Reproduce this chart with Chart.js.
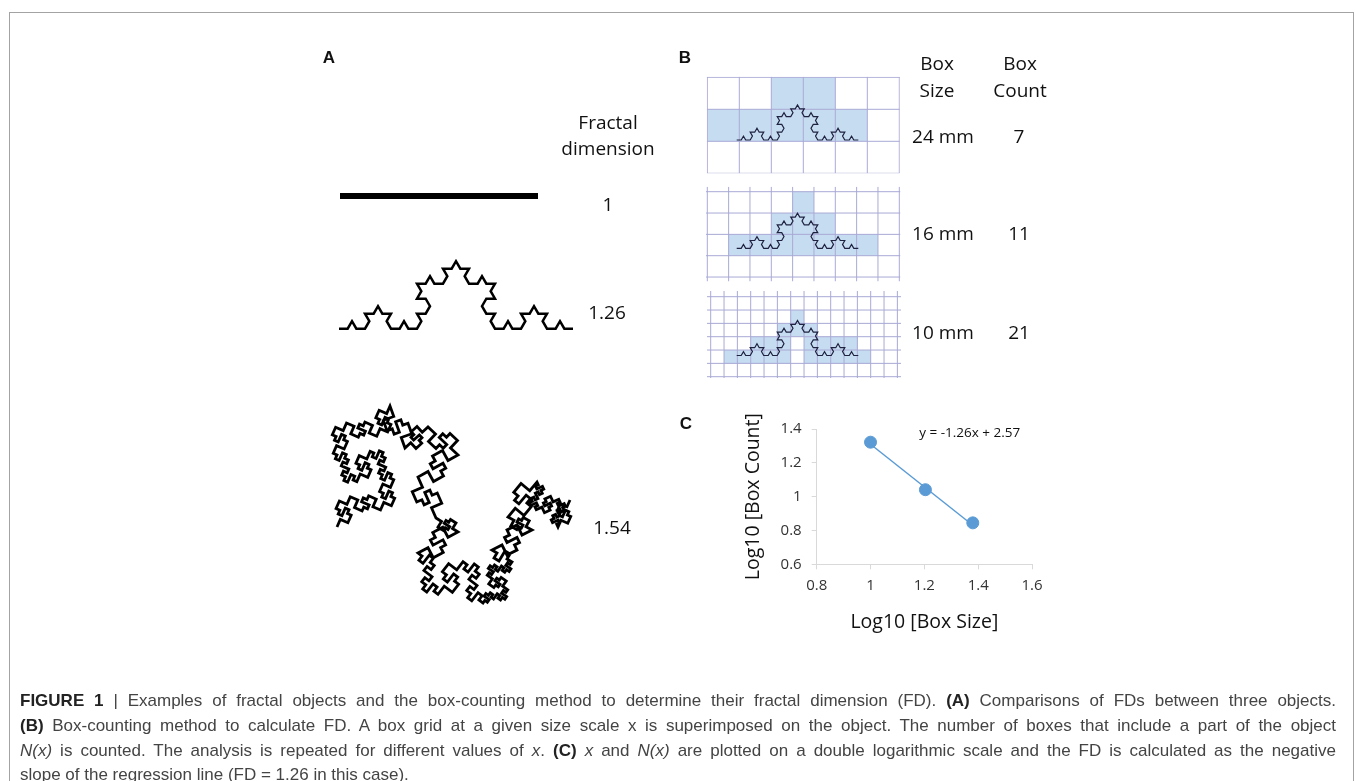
<!DOCTYPE html>
<html>
<head>
<meta charset="utf-8">
<script src="https://cdn.jsdelivr.net/npm/chart.js@4.4.1/dist/chart.umd.min.js"></script>
<style>
body{margin:0;background:#fff;width:1355px;height:781px;overflow:hidden;position:relative;font-family:'Open Sans',sans-serif;color:#111}
.frame{position:absolute;left:9px;top:12px;width:1345px;height:800px;border:1px solid #a3a3a3;box-sizing:border-box}
.t{position:absolute;transform:translate(-50%,-50%);white-space:nowrap;font-size:19px;line-height:1}
.p{position:absolute;transform:translate(-50%,-50%);font-family:'Liberation Sans',Arial,sans-serif;font-weight:bold;font-size:17px;line-height:1}
#illus{position:absolute;left:0;top:0}
#chartC{position:absolute;left:680px;top:400px}
.cap{position:absolute;left:20px;top:689px;width:1316px;font-family:'Liberation Sans',sans-serif;font-size:17px;line-height:24.8px;color:#444}
.cap div{text-align:justify;text-align-last:justify;white-space:nowrap}
.cap div.last{text-align-last:left}
.cap b{color:#222}
</style>
</head>
<body>
<div class="frame"></div>
<canvas id="illus" width="1355" height="781"></canvas>
<canvas id="chartC" width="370" height="240"></canvas>

<div class="p" style="left:329px;top:57px">A</div>
<div class="p" style="left:685px;top:57px">B</div>
<div class="p" style="left:686px;top:423px">C</div>

<div class="t" style="left:608px;top:122px">Fractal</div>
<div class="t" style="left:608px;top:148px">dimension</div>
<div class="t" style="left:608px;top:204px">1</div>
<div class="t" style="left:607px;top:312px">1.26</div>
<div class="t" style="left:612px;top:527px">1.54</div>

<div class="t" style="left:937px;top:63px">Box</div>
<div class="t" style="left:937px;top:90px">Size</div>
<div class="t" style="left:1020px;top:63px">Box</div>
<div class="t" style="left:1020px;top:90px">Count</div>
<div class="t" style="left:943px;top:136px">24 mm</div>
<div class="t" style="left:1019px;top:136px">7</div>
<div class="t" style="left:943px;top:233px">16 mm</div>
<div class="t" style="left:1019px;top:233px">11</div>
<div class="t" style="left:943px;top:332px">10 mm</div>
<div class="t" style="left:1019px;top:332px">21</div>

<div class="cap">
<div><b>FIGURE 1</b> | Examples of fractal objects and the box-counting method to determine their fractal dimension (FD). <b>(A)</b> Comparisons of FDs between three objects.</div>
<div><b>(B)</b> Box-counting method to calculate FD. A box grid at a given size scale x is superimposed on the object. The number of boxes that include a part of the object</div>
<div><i>N(x)</i> is counted. The analysis is repeated for different values of <i>x</i>. <b>(C)</b> <i>x</i> and <i>N(x)</i> are plotted on a double logarithmic scale and the FD is calculated as the negative</div>
<div class="last">slope of the regression line (FD = 1.26 in this case).</div>
</div>

<script>
// panel C values (log10 of box size / box count)
var logBoxSize = [1.0, 1.204, 1.38];
var logBoxCount = [1.322, 1.041, 0.845];
// regression line y = -1.26x + 2.57, end points
var trendX = [1.0, 1.38];
var trendY = [1.31, 0.831];
var xTicks = [0.8, 1.6, 0.2];   // min, max, step
var yTicks = [0.6, 1.4, 0.2];

// boxes counted in panel B, [row, col]
var shade24 = [[0,2],[0,3],[1,0],[1,1],[1,2],[1,3],[1,4]];
var shade16 = [[0,4],[1,3],[1,4],[1,5],[2,1],[2,2],[2,3],[2,4],[2,5],[2,6],[2,7]];
var shade10 = [[1,6],[2,5],[2,6],[2,7],[3,3],[3,4],[3,5],[3,7],[3,8],[3,9],[3,10],
               [4,1],[4,2],[4,3],[4,4],[4,5],[4,7],[4,8],[4,9],[4,10],[4,11]];

var cv = document.getElementById('illus');
var ctx = cv.getContext('2d');

function koch(x1, y1, x2, y2, level, out) {
  if (level == 0) { out.push([x2, y2]); return; }
  var dx = (x2 - x1) / 3, dy = (y2 - y1) / 3;
  var ax = x1 + dx, ay = y1 + dy;
  var bx = x1 + 2 * dx, by = y1 + 2 * dy;
  var c = Math.cos(-Math.PI / 3), s = Math.sin(-Math.PI / 3);
  var px = ax + dx * c - dy * s, py = ay + dx * s + dy * c;
  koch(x1, y1, ax, ay, level - 1, out);
  koch(ax, ay, px, py, level - 1, out);
  koch(px, py, bx, by, level - 1, out);
  koch(bx, by, x2, y2, level - 1, out);
}

function strokePts(pts, w, col) {
  ctx.beginPath();
  ctx.moveTo(pts[0][0], pts[0][1]);
  for (var i = 1; i < pts.length; i++) ctx.lineTo(pts[i][0], pts[i][1]);
  ctx.lineWidth = w;
  ctx.strokeStyle = col;
  ctx.lineJoin = 'miter';
  ctx.stroke();
}

function drawKoch(x1, x2, y, level, w, col) {
  var pts = [[x1, y]];
  koch(x1, y, x2, y, level, pts);
  strokePts(pts, w, col);
}

// minkowski-like squiggle used for the 1.54 object
function mink(p, q, minLen, out) {
  var ux = (q[0] - p[0]) / 4, uy = (q[1] - p[1]) / 4;
  var len = Math.hypot(ux, uy) * 4;
  if (len < minLen) { out.push(q); return; }
  var nx = -uy, ny = ux;
  var g = [p,
    [p[0] + ux, p[1] + uy],
    [p[0] + ux + nx, p[1] + uy + ny],
    [p[0] + 2 * ux + nx, p[1] + 2 * uy + ny],
    [p[0] + 2 * ux - nx, p[1] + 2 * uy - ny],
    [p[0] + 3 * ux - nx, p[1] + 3 * uy - ny],
    [p[0] + 3 * ux, p[1] + 3 * uy],
    q];
  for (var i = 0; i < g.length - 1; i++) mink(g[i], g[i + 1], minLen, out);
}

function drawGrid(clip, ox, oy, cell, shaded) {
  ctx.save();
  ctx.beginPath();
  ctx.rect(clip[0], clip[1], clip[2] - clip[0], clip[3] - clip[1]);
  ctx.clip();
  ctx.fillStyle = '#c6dcf0';
  shaded.forEach(function (rc) {
    ctx.fillRect(ox + rc[1] * cell, oy + rc[0] * cell, cell, cell);
  });
  ctx.strokeStyle = '#a9a9d6';
  ctx.lineWidth = 1;
  ctx.beginPath();
  for (var k = -3; k < 40; k++) {
    var x = ox + k * cell;
    if (x >= clip[0] - 0.5 && x <= clip[2] + 0.5) { ctx.moveTo(x, clip[1]); ctx.lineTo(x, clip[3]); }
    var y = oy + k * cell;
    if (y >= clip[1] - 0.5 && y <= clip[3] + 0.5) { ctx.moveTo(clip[0], y); ctx.lineTo(clip[2], y); }
  }
  ctx.stroke();
  ctx.restore();
}

// panel A
ctx.fillStyle = '#000';
ctx.fillRect(340, 193, 198, 6);
drawKoch(339, 573, 328.7, 3, 2.5, '#000');

var base = [[337,527],[390,406],[405,448],[428,427],[458,455],[418,477],[436,518],[458,532],
            [418,553],[483,603],[512,562],[492,550],[532,530],[508,517],[537,482],[558,527],[570,500]];
var path = [base[0]];
for (var i = 0; i < base.length - 1; i++) mink(base[i], base[i + 1], 12, path);
strokePts(path, 2.8, '#000');

// panel B
drawGrid([706.8, 76.8, 899.8, 173.3], 707.3, 77.3, 32, shade24);
drawKoch(736.7, 858.3, 140, 3, 1.2, '#1e2240');
drawGrid([706, 186.7, 900.5, 281.5], 707.3, 191.7, 64 / 3, shade16);
drawKoch(736.7, 858.3, 248.3, 3, 1.2, '#1e2240');
drawGrid([707, 291, 901, 378], 710.7, 296.7, 40 / 3, shade10);
drawKoch(736.7, 858.3, 355.5, 3, 1.2, '#1e2240');

// panel C
var fmt = function (v) { return String(+Number(v).toFixed(1)); };
var eqLabel = {
  id: 'eqLabel',
  afterDraw: function (c) {
    var g = c.ctx, a = c.chartArea;
    g.save();
    g.font = '13.5px "Open Sans"';
    g.fillStyle = '#111';
    g.textBaseline = 'middle';
    g.fillText('y = -1.26x + 2.57', a.left + 102.5, a.top + 4);
    g.restore();
  }
};

new Chart(document.getElementById('chartC'), {
  type: 'scatter',
  data: {
    datasets: [{
      data: logBoxSize.map(function (x, i) { return {x: x, y: logBoxCount[i]}; }),
      backgroundColor: '#5b9bd5',
      borderColor: '#5b9bd5',
      pointRadius: 6,
      showLine: false
    }, {
      data: trendX.map(function (x, i) { return {x: x, y: trendY[i]}; }),
      borderColor: '#5b9bd5',
      borderWidth: 1.5,
      pointRadius: 0,
      showLine: true
    }]
  },
  options: {
    responsive: false,
    animation: false,
    layout: {padding: {left: 58, top: 29, right: 18, bottom: 0}},
    plugins: {legend: {display: false}, tooltip: {enabled: false}},
    scales: {
      x: {
        type: 'linear', min: xTicks[0], max: xTicks[1],
        ticks: {stepSize: xTicks[2], callback: fmt, font: {family: 'Open Sans', size: 15}, color: '#333', padding: 7},
        grid: {drawOnChartArea: false, tickLength: 5, color: '#d9d9d9'},
        border: {color: '#d9d9d9'},
        title: {display: true, text: 'Log10 [Box Size]', font: {family: 'Open Sans', size: 19.5}, color: '#111', padding: {top: 4, bottom: 6}},
        afterFit: function (s) { s.height = 75.7; s.paddingLeft = 0; s.paddingRight = 0; }
      },
      y: {
        type: 'linear', min: yTicks[0], max: yTicks[1],
        ticks: {stepSize: yTicks[2], callback: fmt, font: {family: 'Open Sans', size: 15}, color: '#333', padding: 10},
        grid: {drawOnChartArea: false, tickLength: 5, color: '#d9d9d9'},
        border: {color: '#d9d9d9'},
        title: {display: true, text: 'Log10 [Box Count]', font: {family: 'Open Sans', size: 19.5}, color: '#111', padding: {top: 4, bottom: 4}},
        afterFit: function (s) { s.width = 78.7; s.paddingTop = 0; s.paddingBottom = 0; }
      }
    }
  },
  plugins: [eqLabel]
});
</script>
</body>
</html>
